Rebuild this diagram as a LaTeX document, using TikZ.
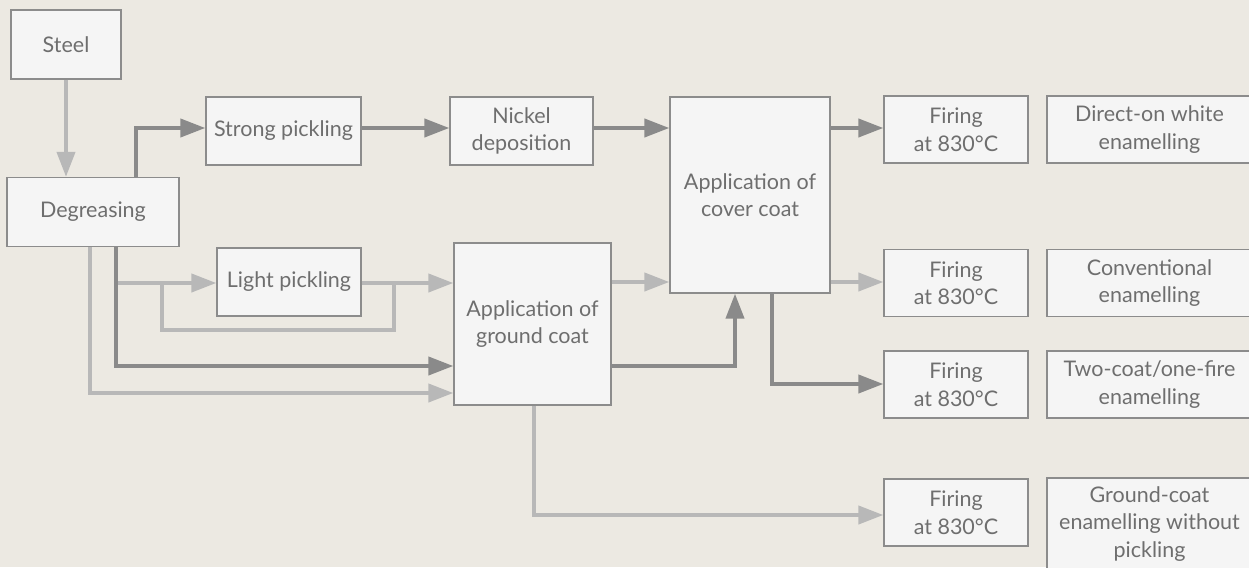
\documentclass[tikz,border=0pt]{standalone}
\usepackage{fontspec}
\setmainfont{Lato}
\usetikzlibrary{arrows.meta,calc}
\definecolor{bg}{HTML}{ECE9E2}
\definecolor{boxfill}{HTML}{F5F5F5}
\definecolor{boxline}{HTML}{8C8C8C}
\definecolor{txt}{HTML}{6E6E6E}
\definecolor{darkarr}{HTML}{8A8A8A}
\definecolor{lightarr}{HTML}{B8B8B8}
\tikzset{
  procbox/.style={draw=boxline, line width=1.3pt, fill=boxfill, text=txt, align=center,
    inner sep=0pt, font=\fontsize{21.5}{27.5}\selectfont},
  darkline/.style={draw=darkarr, line width=4pt},
  lightline/.style={draw=lightarr, line width=4pt},
  darkflow/.style={darkline, -{Triangle[length=25pt,width=18pt]}},
  lightflow/.style={lightline, -{Triangle[length=25pt,width=18pt]}},
}
\begin{document}
\begin{tikzpicture}[x=1pt,y=-1pt]
\fill[bg] (0,0) rectangle (1249,567);
\useasboundingbox (0,0) rectangle (1249,567);
\begin{scope}
\clip (0,0) rectangle (1249,567);
% boxes
\node[procbox, minimum width=110pt, minimum height=69pt] (steel) at (66,44.5) {Steel};
\node[procbox, minimum width=172pt, minimum height=69pt] (degr) at (93,212) {Degreasing};
\node[procbox, minimum width=155pt, minimum height=68pt] (strong) at (283.5,131) {Strong pickling};
\node[procbox, minimum width=143pt, minimum height=68pt] (nickel) at (521.5,131) {Nickel\\deposition};
\node[procbox, minimum width=144pt, minimum height=68pt] (light) at (289,282) {Light pickling};
\node[procbox, minimum width=157pt, minimum height=162pt] (ground) at (532.5,324) {Application of\\ground coat};
\node[procbox, minimum width=160pt, minimum height=196pt] (cover) at (750,195) {Application of\\cover coat};
\node[procbox, minimum width=144pt, minimum height=67pt] (f1) at (956,129.5) {Firing\\at 830°C};
\node[procbox, minimum width=144pt, minimum height=67pt] (f2) at (956,283) {Firing\\at 830°C};
\node[procbox, minimum width=144pt, minimum height=67pt] (f3) at (956,384.5) {Firing\\at 830°C};
\node[procbox, minimum width=144pt, minimum height=67pt] (f4) at (956,512.5) {Firing\\at 830°C};
\node[procbox, minimum width=205pt, minimum height=67pt] (r1) at (1149.5,129.5) {Direct-on white\\enamelling};
\node[procbox, minimum width=205pt, minimum height=67pt] (r2) at (1149.5,283) {Conventional\\enamelling};
\node[procbox, minimum width=205pt, minimum height=67pt] (r3) at (1149.5,384.5) {Two-coat/one-fire\\enamelling};
\node[procbox, minimum width=205pt, minimum height=92pt] (r4) at (1149.5,524) {Ground-coat\\enamelling without\\pickling};
% helper coordinates
\coordinate (lp) at (116,283);
\coordinate (bypassL) at (162,283);
\coordinate (bypassR) at (394,283);
% connectors
\draw[lightflow] (steel.south) -- (steel.south |- degr.north);
\draw[darkflow] (degr.north -| 136,0) |- ([yshift=3pt]strong.west);
\draw[darkflow] ([yshift=3pt]strong.east) -- ([yshift=3pt]nickel.west);
\draw[darkflow] ([yshift=3pt]nickel.east) -- (cover.west |- 0,128);
\draw[darkflow] (cover.east |- 0,128) -- (f1.west |- 0,128);
% light pickling branch
\draw[lightflow] (lp) -- (light.west |- lp);
\draw[lightline] (bypassL) |- (0,330 -| bypassR) -- (bypassR);
\draw[lightflow] (light.east |- lp) -- (ground.west |- lp);
% direct lines from degreasing
\draw[lightflow] (degr.south -| 90,0) |- (ground.west |- 0,393);
\draw[darkflow] (degr.south -| 116,0) |- (ground.west |- 0,366);
% ground coat outputs
\draw[lightflow] (ground.east |- 0,282) -- (cover.west |- 0,282);
\draw[darkflow] (ground.east |- 0,366) -| (cover.south -| 735,0);
\draw[lightflow] (ground.south -| 534,0) |- (f4.west |- 0,515);
% cover coat outputs
\draw[lightflow] (cover.east |- 0,282) -- (f2.west |- 0,282);
\draw[darkflow] (cover.south -| 772,0) |- (f3.west |- 0,384);
\end{scope}
\end{tikzpicture}
\end{document}
